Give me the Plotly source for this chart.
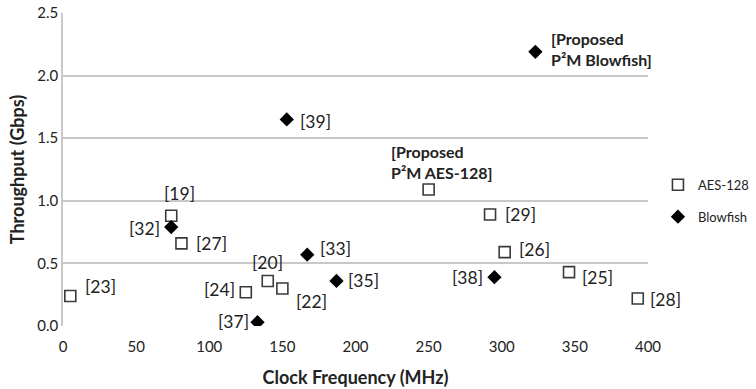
import plotly.graph_objects as go

# ---- data ----
aes_freq = [5, 74, 81, 125, 140, 150, 250, 292, 302, 346, 393]
aes_tput = [0.24, 0.88, 0.66, 0.27, 0.36, 0.30, 1.09, 0.89, 0.59, 0.43, 0.22]
aes_labels = ["[23]", "[19]", "[27]", "[24]", "[20]", "[22]",
              "<b>[Proposed<br>P²M AES-128]</b>",
              "[29]", "[26]", "[25]", "[28]"]

bf_freq = [74, 153, 167, 187, 133, 295, 323]
bf_tput = [0.79, 1.65, 0.57, 0.36, 0.03, 0.39, 2.19]
bf_labels = ["[32]", "[39]", "[33]", "[35]", "[37]", "[38]",
             "<b>[Proposed<br>P²M Blowfish]</b>"]

x_ticks = [0, 50, 100, 150, 200, 250, 300, 350, 400]
y_ticks = [0.0, 0.5, 1.0, 1.5, 2.0, 2.5]

# ---- label placement (xanchor, xshift, yshift, yanchor, size) ----
aes_pos = [("left", 13, 9, "middle", 17.5), ("center", 8, 22, "middle", 17.5),
           ("left", 13, 0, "middle", 17.5), ("right", -9, 3, "middle", 17.5),
           ("center", 0, 18, "middle", 17.5), ("left", 12, -13, "middle", 17.5),
           ("left", -40, 6, "bottom", 16), ("left", 13, 0, "middle", 17.5),
           ("left", 12, 3, "middle", 17.5), ("left", 11, -5, "middle", 17.5),
           ("left", 10, -1, "middle", 17.5)]
bf_pos = [("right", -9, -1, "middle", 17.5), ("left", 11, -2, "middle", 17.5),
          ("left", 11, 6, "middle", 17.5), ("left", 10, 0, "middle", 17.5),
          ("right", -7, 1, "middle", 17.5), ("right", -9, 0, "middle", 17.5),
          ("left", 14, 3, "middle", 16)]

FONT = "Lato, 'Open Sans', sans-serif"
INK = "#222"

fig = go.Figure()
fig.add_trace(go.Scatter(
    x=aes_freq, y=aes_tput, mode="markers", name="AES-128",
    legendgroup="a",
    marker=dict(symbol="square", size=11, color="white",
                line=dict(color="#3a3a3a", width=1.6)),
))
fig.add_trace(go.Scatter(
    x=bf_freq, y=bf_tput, mode="markers", name="Blowfish",
    legendgroup="b",
    marker=dict(symbol="diamond", size=11, color="black",
                line=dict(color="black", width=0)),
))

annots = []
for xs, ys, labs, pos in [(aes_freq, aes_tput, aes_labels, aes_pos),
                          (bf_freq, bf_tput, bf_labels, bf_pos)]:
    for xv, yv, lab, (xa, dx, dy, ya, fs) in zip(xs, ys, labs, pos):
        annots.append(dict(x=xv, y=yv, xref="x", yref="y", text=lab,
                           showarrow=False, xanchor=xa, yanchor=ya,
                           xshift=dx, yshift=dy, align="left",
                           font=dict(family=FONT, size=fs, color=INK)))

fig.update_layout(
    width=756, height=389,
    margin=dict(l=63, r=108, t=13, b=63, autoexpand=False),
    paper_bgcolor="white", plot_bgcolor="white",
    font=dict(family=FONT, color=INK),
    annotations=annots,
    showlegend=True,
    legend=dict(x=1.017, y=0.40, xanchor="left", yanchor="middle",
                xref="paper", yref="paper", itemwidth=30,
                traceorder="grouped", tracegroupgap=12,
                font=dict(family=FONT, size=13, color=INK),
                bgcolor="rgba(0,0,0,0)", borderwidth=0),
    xaxis=dict(range=[0, 400], tickvals=x_ticks, showgrid=False,
               zeroline=False, showline=False, ticks="", automargin=False,
               ticklabelstandoff=10,
               tickfont=dict(family=FONT, size=15, color=INK),
               title=dict(text="<b>Clock Frequency (MHz)</b>",
                          font=dict(family=FONT, size=18, color=INK),
                          standoff=17)),
    yaxis=dict(range=[0, 2.5], tickvals=y_ticks, tickformat=".1f",
               showgrid=True, gridcolor="#c8c8c8", gridwidth=1.5,
               zeroline=False, showline=True, linecolor="#c8c8c8",
               linewidth=1.5, ticks="", automargin=False,
               tickfont=dict(family=FONT, size=15, color=INK),
               title=dict(text="<b>Throughput (Gbps)</b>",
                          font=dict(family=FONT, size=18, color=INK),
                          standoff=8)),
)

fig.write_html("out.html")
